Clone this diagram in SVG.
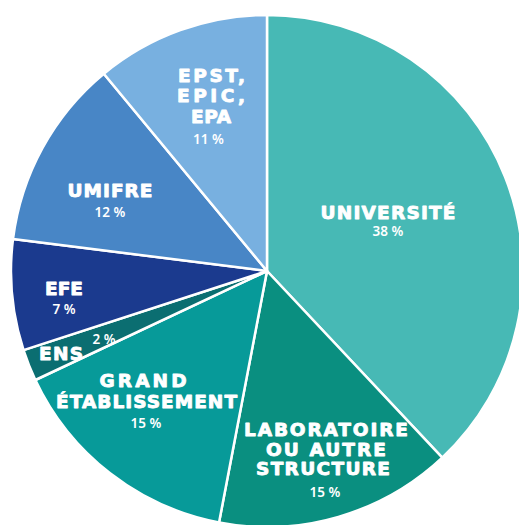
<svg xmlns="http://www.w3.org/2000/svg" width="519" height="525" viewBox="0 0 519 525">
<style>
.s{stroke:#fff;stroke-width:2.5;stroke-linejoin:round}
.t{font-family:"DejaVu Sans","Liberation Sans",sans-serif;font-weight:700;fill:#fff;text-anchor:middle}
.l{font-size:18.5px;stroke:#fff;stroke-width:0.9px;stroke-linejoin:round}
.p{font-family:"Noto Sans","Liberation Sans",sans-serif;font-size:13.5px;font-weight:600}
</style>
<rect width="519" height="525" fill="#fff"/>
<g id="universite">
<path class="s" fill="#47b9b5" d="M267,271 L267,15 A256,256 0 0 1 442.24,457.62 Z"/>
<text class="t l" x="388" y="218.5" textLength="135" lengthAdjust="spacing">UNIVERSITÉ</text>
<text class="t p" x="388" y="236">38 %</text>
</g>
<g id="laboratoire">
<path class="s" fill="#0a8f80" d="M267,271 L442.24,457.62 A256,256 0 0 1 219.03,522.47 Z"/>
<text class="t l" x="326" y="436" textLength="164" lengthAdjust="spacing">LABORATOIRE</text>
<text class="t l" x="326" y="455.5" textLength="120" lengthAdjust="spacing">OU AUTRE</text>
<text class="t l" x="323" y="475" textLength="134" lengthAdjust="spacing">STRUCTURE</text>
<text class="t p" x="325" y="496.5">15 %</text>
</g>
<g id="grand">
<path class="s" fill="#079a99" d="M267,271 L219.03,522.47 A256,256 0 0 1 35.36,380 Z"/>
<text class="t l" x="143" y="387" textLength="87" lengthAdjust="spacing">GRAND</text>
<text class="t l" x="146.5" y="407.5" textLength="181" lengthAdjust="spacing">ÉTABLISSEMENT</text>
<text class="t p" x="146" y="427.5">15 %</text>
</g>
<g id="ens">
<path class="s" fill="#0b6e71" d="M267,271 L35.36,380 A256,256 0 0 1 23.53,350.11 Z"/>
<text class="t l" x="61" y="360" textLength="44" lengthAdjust="spacing">ENS</text>
<text class="t p" x="104" y="344">2 %</text>
</g>
<g id="efe">
<path class="s" fill="#1b3a8e" d="M267,271 L23.53,350.11 A256,256 0 0 1 13.02,238.92 Z"/>
<text class="t l" x="64" y="295" textLength="38" lengthAdjust="spacing">EFE</text>
<text class="t p" x="64" y="314">7 %</text>
</g>
<g id="umifre">
<path class="s" fill="#4886c6" d="M267,271 L13.02,238.92 A256,256 0 0 1 103.82,73.75 Z"/>
<text class="t l" x="110" y="197" textLength="85" lengthAdjust="spacing">UMIFRE</text>
<text class="t p" x="110" y="217">12 %</text>
</g>
<g id="epst">
<path class="s" fill="#78b0e0" d="M267,271 L103.82,73.75 A256,256 0 0 1 267,15 Z"/>
<text class="t l" x="211.5" y="82" textLength="67" lengthAdjust="spacing">EPST,</text>
<text class="t l" x="211" y="102" textLength="68" lengthAdjust="spacing">EPIC,</text>
<text class="t l" x="211" y="122.5" textLength="40" lengthAdjust="spacing">EPA</text>
<text class="t p" x="208.5" y="143.5">11 %</text>
</g>
</svg>
